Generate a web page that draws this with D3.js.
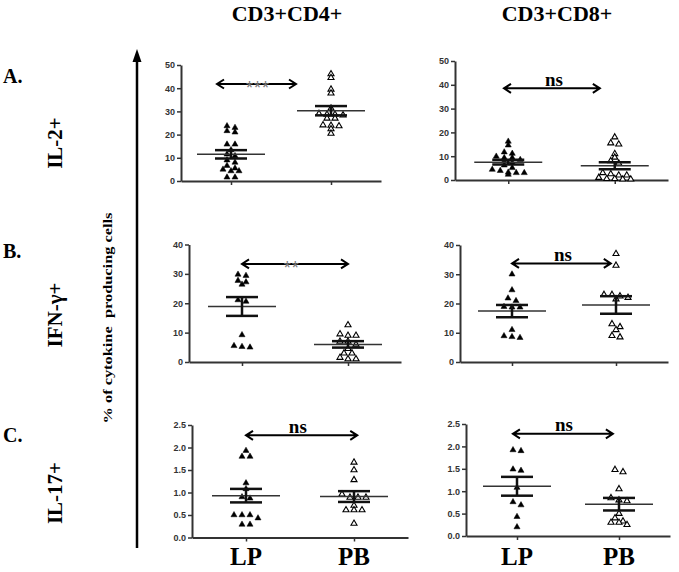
<!DOCTYPE html>
<html><head><meta charset="utf-8">
<script src="https://cdn.jsdelivr.net/npm/d3@7"></script>
<style>body{margin:0;background:#fff;} svg{display:block;}</style>
</head><body><svg id="c" width="679" height="572"></svg>
<script>
const cytokines = ["IL-2+", "IFN-γ+", "IL-17+"];
const rowLetters = ["A.", "B.", "C."];
const subsets = ["CD3+CD4+", "CD3+CD8+"];
const groups = ["LP", "PB"];
const yMax = [50, 40, 2.5];
const yStep = [10, 10, 0.5];

// IL-2+
const il2_CD4_LP = [23.7, 21.6, 21.0, 23.0, 15.8, 15.8, 13.4, 11.5, 10.8, 9.0, 8.0, 6.6, 5.5, 4.3, 5.0, 4.3, 1.6, 1.6];
const il2_CD4_PB = [46.1, 44.5, 39.5, 37.8, 31.3, 28.7, 28.7, 28.4, 29.0, 27.0, 27.0, 23.7, 23.9, 24.1, 22.4, 20.5];
const il2_CD8_LP = [16.2, 14.6, 11.1, 11.7, 9.9, 9.3, 9.3, 7.9, 8.5, 7.3, 6.2, 5.1, 3.9, 3.0, 2.3, 3.0, 3.2, 4.4];
const il2_CD8_PB = [18.0, 15.5, 15.0, 11.0, 9.5, 8.0, 7.0, 3.0, 2.5, 2.0, 1.0, 0.5, 0.5, 0.3, 0.3, 2.0];
// IFN-γ+
const ifn_CD4_LP = [29.4, 29.8, 27.2, 26.4, 27.7, 20.6, 21.1, 9.2, 5.5, 5.0, 5.2];
const ifn_CD4_PB = [12.6, 9.0, 9.0, 9.5, 7.0, 7.0, 6.0, 4.5, 3.0, 3.0, 1.5, 1.0, 1.0];
const ifn_CD8_LP = [30.0, 24.6, 21.8, 20.9, 18.7, 18.9, 18.7, 11.0, 8.9, 8.3, 8.6];
const ifn_CD8_PB = [37.0, 33.0, 23.0, 23.0, 22.5, 22.0, 21.5, 13.0, 12.0, 11.0, 9.0, 8.5];
// IL-17+
const il17_CD4_LP = [1.93, 1.8, 1.8, 1.21, 1.08, 0.9, 0.87, 0.5, 0.43, 0.5, 0.5, 0.29, 0.29];
const il17_CD4_PB = [1.67, 1.5, 1.28, 0.89, 0.89, 0.89, 0.96, 0.71, 0.61, 0.61, 0.61, 0.31];
const il17_CD8_LP = [1.92, 1.9, 1.46, 1.49, 1.08, 0.76, 0.69, 0.43, 0.2];
const il17_CD8_PB = [1.48, 1.43, 1.05, 0.85, 0.8, 0.78, 0.5, 0.4, 0.33, 0.3, 0.3, 0.25];

// mean and SEM [LP, PB]
const il2_CD4_mean = [11.5, 30.3],  il2_CD4_sem = [1.8, 2.0];
const il2_CD8_mean = [7.5, 6.0],    il2_CD8_sem = [1.0, 1.5];
const ifn_CD4_mean = [18.9, 6.0],   ifn_CD4_sem = [3.2, 1.1];
const ifn_CD8_mean = [17.4, 19.5],  ifn_CD8_sem = [2.1, 3.0];
const il17_CD4_mean = [0.93, 0.91], il17_CD4_sem = [0.15, 0.12];
const il17_CD8_mean = [1.11, 0.71], il17_CD8_sem = [0.21, 0.14];

const sigLabels = [["***", "ns"], ["**", "ns"], ["ns", "ns"]];
const sigValue = [[41.8, 38.5], [33.4, 33.7], [2.27, 2.28]];

const values = [
  [[il2_CD4_LP, il2_CD4_PB], [il2_CD8_LP, il2_CD8_PB]],
  [[ifn_CD4_LP, ifn_CD4_PB], [ifn_CD8_LP, ifn_CD8_PB]],
  [[il17_CD4_LP, il17_CD4_PB], [il17_CD8_LP, il17_CD8_PB]]
];
const means = [[il2_CD4_mean, il2_CD8_mean], [ifn_CD4_mean, ifn_CD8_mean], [il17_CD4_mean, il17_CD8_mean]];
const sems = [[il2_CD4_sem, il2_CD8_sem], [ifn_CD4_sem, ifn_CD8_sem], [il17_CD4_sem, il17_CD8_sem]];

// layout (pixels)
const frames = [
  [{x0: 181, x1: 381, y0: 181, y1: 65}, {x0: 455, x1: 668, y0: 180, y1: 61}],
  [{x0: 189, x1: 401, y0: 362, y1: 244.5}, {x0: 460, x1: 668, y0: 362, y1: 245}],
  [{x0: 192, x1: 408, y0: 537.5, y1: 425}, {x0: 466, x1: 670, y0: 536, y1: 424}]
];
const arrowSpan = [[[-0.14, 0.65], [-0.04, 0.86]], [[0, 1], [0, 0.95]], [[0, 1.03], [-0.04, 0.94]]];
const sigPos = [[0.27, 0.43], [0.47, 0.49], [0.48, 0.46]];

const serif = "'Liberation Serif','Times New Roman',serif";
const sans = "'Liberation Sans',Arial,sans-serif";
const svg = d3.select("#c");

function swarm(vals, y, cx) {
  const pts = vals.map(v => ({v, py: y(v)})).sort((a, b) => a.py - b.py);
  const rows = [];
  pts.forEach(p => {
    const r = rows[rows.length - 1];
    if (r && p.py - r[0].py < 3.5) r.push(p); else rows.push([p]);
  });
  rows.forEach(r => r.forEach((p, i) => p.px = cx + (i - (r.length - 1) / 2) * 8));
  return pts;
}

const tri = d3.symbol().type(d3.symbolTriangle).size(16);

for (let r = 0; r < 3; r++) {
  for (let c = 0; c < 2; c++) {
    const f = frames[r][c];
    const g = svg.append("g");
    const x = d3.scalePoint().domain(groups).range([f.x0, f.x1]).padding(0.5);
    const y = d3.scaleLinear().domain([0, yMax[r]]).range([f.y0, f.y1]);
    const ticks = d3.range(0, yMax[r] + 1e-9, yStep[r]);
    const ya = g.append("g").attr("transform", `translate(${f.x0},0)`)
      .call(d3.axisLeft(y).tickValues(ticks).tickSize(4).tickSizeOuter(0).tickPadding(2)
        .tickFormat(yMax[r] < 5 ? d3.format(".1f") : d3.format("d")));
    const xa = g.append("g").attr("transform", `translate(0,${f.y0})`)
      .call(d3.axisBottom(x).tickSize(4).tickSizeOuter(0).tickFormat(""));
    [ya, xa].forEach(a => {
      a.select(".domain").attr("stroke", "#333").attr("stroke-width", 2);
      a.selectAll(".tick line").attr("stroke", "#333").attr("stroke-width", 1.5);
      a.selectAll(".tick text").attr("font-family", sans).attr("font-weight", "bold")
        .attr("font-size", 9).attr("fill", "#333");
    });

    groups.forEach((grp, gi) => {
      const cx = x(grp);
      const pts = swarm(values[r][c][gi], y, cx);
      g.selectAll(null).data(pts).enter().append("path")
        .attr("d", tri)
        .attr("transform", d => `translate(${d.px},${d.py})`)
        .attr("fill", gi === 0 ? "#000" : "#fff")
        .attr("stroke", "#000")
        .attr("stroke-width", gi === 0 ? 0.5 : 1.1);
      const m = means[r][c][gi], s = sems[r][c][gi];
      g.append("line").attr("x1", cx - 34).attr("x2", cx + 34).attr("y1", y(m)).attr("y2", y(m))
        .attr("stroke", "#333").attr("stroke-width", 1.5);
      g.append("line").attr("x1", cx).attr("x2", cx).attr("y1", y(m - s)).attr("y2", y(m + s))
        .attr("stroke", "#111").attr("stroke-width", 2.5);
      [m - s, m + s].forEach(v => g.append("line").attr("x1", cx - 16).attr("x2", cx + 16)
        .attr("y1", y(v)).attr("y2", y(v)).attr("stroke", "#111").attr("stroke-width", 2.5));
    });

    // significance arrow
    const lp = x("LP"), pb = x("PB"), d = pb - lp;
    const xa0 = lp + arrowSpan[r][c][0] * d, xa1 = lp + arrowSpan[r][c][1] * d;
    const yy = y(sigValue[r][c]);
    g.append("path")
      .attr("d", `M${xa0},${yy}H${xa1}M${xa0 + 7},${yy - 4.5}L${xa0},${yy}L${xa0 + 7},${yy + 4.5}M${xa1 - 7},${yy - 4.5}L${xa1},${yy}L${xa1 - 7},${yy + 4.5}`)
      .attr("fill", "none").attr("stroke", "#000").attr("stroke-width", 2);
    const lab = sigLabels[r][c];
    const lx = lp + sigPos[r][c] * d;
    if (lab === "ns") {
      g.append("text").attr("x", lx).attr("y", yy - 2.5).attr("text-anchor", "middle")
        .attr("font-family", serif).attr("font-weight", "bold").attr("font-size", 19).text(lab);
    } else {
      g.append("text").attr("x", lx).attr("y", yy + 10).attr("text-anchor", "middle")
        .attr("font-family", sans).attr("font-size", 18).attr("fill", "#777")
        .attr("letter-spacing", 1).text(lab);
    }

    if (r === 2) {
      groups.forEach(grp => g.append("text").attr("x", x(grp)).attr("y", 565)
        .attr("text-anchor", "middle").attr("font-family", serif).attr("font-weight", "bold")
        .attr("font-size", 25).text(grp));
    }
  }
}

// titles
const titleX = [287, 557];
subsets.forEach((s, i) => svg.append("text").attr("x", titleX[i]).attr("y", 21)
  .attr("text-anchor", "middle").attr("font-family", serif).attr("font-weight", "bold")
  .attr("font-size", 22).text(s));

// row letters and cytokine labels
const letterY = [83, 258, 442];
const cytoY = [143, 315, 493];
rowLetters.forEach((l, i) => {
  svg.append("text").attr("x", 3).attr("y", letterY[i]).attr("font-family", serif)
    .attr("font-weight", "bold").attr("font-size", 20).text(l);
  svg.append("text").attr("transform", `translate(62,${cytoY[i]}) rotate(-90)`)
    .attr("text-anchor", "middle").attr("font-family", serif).attr("font-weight", "bold")
    .attr("font-size", 21).text(cytokines[i]);
});

// y title
svg.append("text").attr("transform", "translate(112,318) rotate(-90)")
  .attr("text-anchor", "middle").attr("font-family", serif).attr("font-weight", "bold")
  .attr("font-size", 13.5).attr("textLength", 211).attr("lengthAdjust", "spacingAndGlyphs")
  .attr("xml:space", "preserve").style("white-space", "pre")
  .text("% of cytokine  producing cells");

// big vertical arrow
svg.append("line").attr("x1", 137).attr("x2", 137).attr("y1", 548).attr("y2", 60)
  .attr("stroke", "#000").attr("stroke-width", 2.5);
svg.append("path").attr("d", "M137,49L141.5,62L132.5,62Z").attr("fill", "#000");
</script></body></html>
